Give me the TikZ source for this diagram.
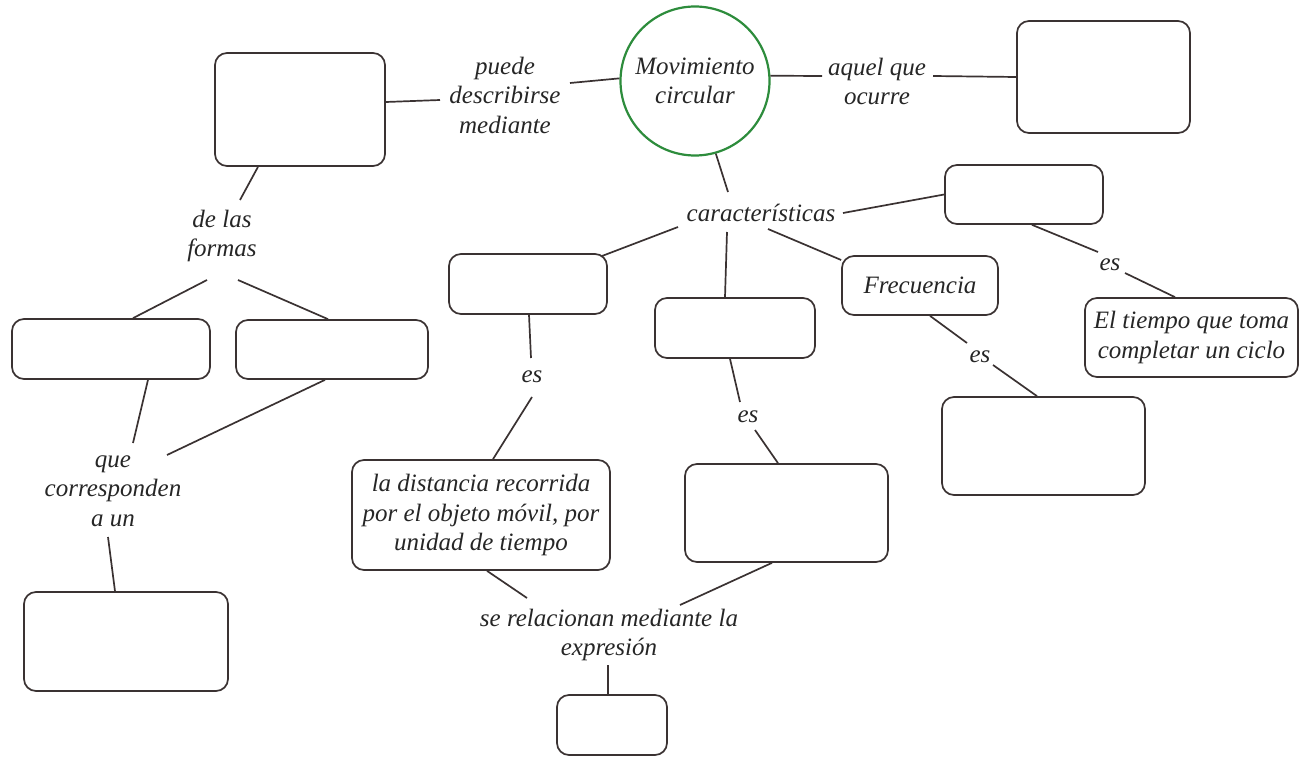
\documentclass[tikz,border=0pt]{standalone}
\usepackage{fontspec}
\setmainfont{Liberation Serif}
\definecolor{ln}{RGB}{58,50,50}
\definecolor{gr}{RGB}{45,140,60}
\begin{document}
\begin{tikzpicture}[x=1pt,y=-1pt,
  every node/.style={font=\fontsize{25}{29.5}\selectfont\itshape, text=black!85},
  lbl/.style={align=center, inner sep=0pt},
  bx/.style 2 args={draw=ln, line width=1.7pt, rounded corners=12pt, minimum width=#1pt, minimum height=#2pt, inner sep=0pt, align=center},
  cn/.style={draw=ln, line width=1.7pt}]
\useasboundingbox (0,0) rectangle (1299,757);
% central circle
\node[draw=gr, line width=2.2pt, circle, minimum size=149pt, inner sep=0pt, align=center] (mc) at (695,81) {Movimiento\\circular};
% labels
\node[lbl] (puede) at (505,95) {puede\\describirse\\mediante};
\node[lbl] (aquel) at (877,81.5) {aquel que\\ocurre};
\node[lbl] (delas) at (222,236) {de las\\formas};
\node[lbl] (que) at (113,491) {que\\corresponden\\a un};
\node[lbl] (car) at (761,213) {características};
\node[lbl] (es1) at (1110,265) {es};
\node[lbl] (es2) at (980,357) {es};
\node[lbl] (es3) at (532,377) {es};
\node[lbl] (es4) at (748,417) {es};
\node[lbl] (se) at (609,635) {se relacionan mediante la\\expresión};
% boxes
\node[bx={170}{113}] (tl) at (300,109.5) {};
\node[bx={173}{112}] (tr) at (1103.5,77) {};
\node[bx={198}{60}] (lf1) at (111,349) {};
\node[bx={192}{59}] (lf2) at (332,349.5) {};
\node[bx={204}{99}] (bl) at (126,641.5) {};
\node[bx={158}{59}] (tr2) at (1024,194.5) {};
\node[bx={213}{79}] (tiempo) at (1191.5,337.5) {El tiempo que toma\\completar un ciclo};
\node[bx={156}{59}] (freq) at (920,285.5) {Frecuencia};
\node[bx={203}{98}] (fbox) at (1043.5,446) {};
\node[bx={158}{60}] (lbox) at (528,284) {};
\node[bx={258}{110}] (dist) at (481,515) {la distancia recorrida\\por el objeto móvil, por\\unidad de tiempo};
\node[bx={160}{60}] (mbox) at (735,328) {};
\node[bx={203}{98}] (rbox) at (786.5,513) {};
\node[bx={110}{60}] (bbox) at (612,725) {};
% connectors
\draw[cn] ([yshift=7.5pt]tl.east) -- ([xshift=-65pt,yshift=-5pt]puede.center);
\draw[cn] ([xshift=65pt,yshift=12pt]puede.center) -- (mc.178);
\draw[cn] (mc.4) -- ([xshift=-55pt,yshift=5.5pt]aquel.center);
\draw[cn] ([xshift=56pt,yshift=5.5pt]aquel.center) -- (tr.west);
\draw[cn] ([xshift=-42pt]tl.south) -- ([xshift=18pt,yshift=36pt]delas.center);
\draw[cn] ([xshift=-15pt,yshift=-44pt]delas.center) -- ([xshift=22pt]lf1.north);
\draw[cn] ([xshift=16pt,yshift=-44pt]delas.center) -- ([xshift=-4pt]lf2.north);
\draw[cn] ([xshift=37pt]lf1.south) -- ([xshift=20pt,yshift=48pt]que.center);
\draw[cn] ([xshift=-7pt]lf2.south) -- ([xshift=54pt,yshift=36pt]que.center);
\draw[cn] ([xshift=-5pt,yshift=-46pt]que.center) -- ([xshift=-11pt]bl.north);
\draw[cn] (mc.-74) -- ([xshift=-33pt,yshift=21pt]car.center);
\draw[cn] ([xshift=82pt]car.center) -- (tr2.west);
\draw[cn] ([xshift=8pt]tr2.south) -- ([xshift=-12pt,yshift=13pt]es1.center);
\draw[cn] ([xshift=15pt,yshift=-8pt]es1.center) -- ([xshift=-16.5pt]tiempo.north);
\draw[cn] ([xshift=7pt,yshift=-16pt]car.center) -- ([yshift=25.5pt]freq.west);
\draw[cn] ([xshift=10pt]freq.south) -- ([xshift=-13pt,yshift=14pt]es2.center);
\draw[cn] ([xshift=13pt,yshift=-8pt]es2.center) -- ([xshift=-6.5pt]fbox.north);
\draw[cn] ([xshift=-83pt,yshift=-14pt]car.center) -- ([xshift=74pt,yshift=28pt]lbox.center);
\draw[cn] ([xshift=1pt]lbox.south) -- ([xshift=-1pt,yshift=19pt]es3.center);
\draw[cn] ([yshift=-20pt]es3.center) -- ([xshift=12pt]dist.north);
\draw[cn] ([xshift=-34pt,yshift=-19pt]car.center) -- ([xshift=-10pt]mbox.north);
\draw[cn] ([xshift=-5pt]mbox.south) -- ([xshift=-8pt,yshift=15pt]es4.center);
\draw[cn] ([xshift=7pt,yshift=-13pt]es4.center) -- ([xshift=-8.5pt]rbox.north);
\draw[cn] ([xshift=6pt]dist.south) -- ([xshift=-82pt,yshift=37pt]se.center);
\draw[cn] ([xshift=-14.5pt]rbox.south) -- ([xshift=71pt,yshift=30pt]se.center);
\draw[cn] ([xshift=-1pt,yshift=-30pt]se.center) -- ([xshift=-4pt]bbox.north);
\end{tikzpicture}
\end{document}
